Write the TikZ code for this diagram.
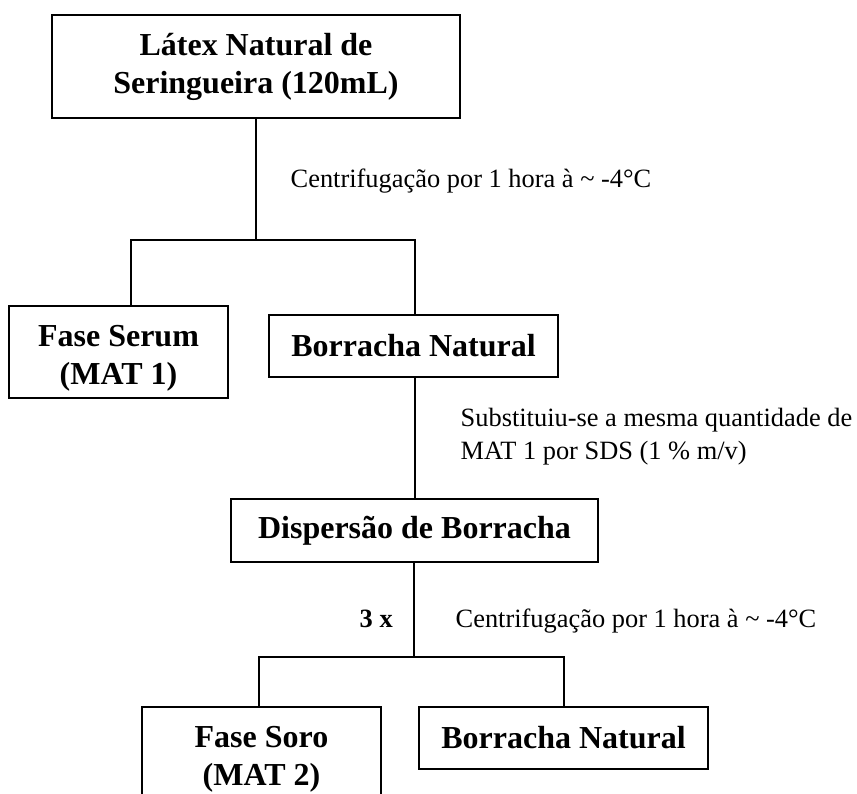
\documentclass[tikz,border=0pt]{standalone}
\usepackage{fontspec}
\setmainfont{Liberation Serif}
\begin{document}
\begin{tikzpicture}[x=1pt,y=-1pt, line width=1.4pt,
  box/.style={draw, rectangle, inner sep=0pt, align=center,
    font=\fontsize{32}{38}\selectfont\bfseries},
  lbl/.style={inner sep=0pt, align=left, font=\fontsize{26.4}{33}\selectfont},
  lblb/.style={lbl, font=\fontsize{26.4}{33}\selectfont\bfseries}]
\useasboundingbox (0,0) rectangle (857,794);

% boxes
\node[box, minimum width=408pt, minimum height=103pt] (top) at (256,66.5)
  {Látex Natural de\\Seringueira (120mL)};
\node[box, minimum width=219pt, minimum height=92pt] (serum) at (118.5,352)
  {\rule{0pt}{34pt}Fase Serum\\(MAT 1)};
\node[box, minimum width=289pt, minimum height=62pt] (bn1) at (413.5,346)
  {Borracha Natural};
\node[box, minimum width=367pt, minimum height=63pt] (disp) at (414.5,530.5)
  {Dispersão de Borracha};
\node[box, minimum width=239pt, minimum height=105pt] (soro) at (261.5,759.5)
  {Fase Soro\\(MAT 2)};
\node[box, minimum width=289pt, minimum height=62pt] (bn2) at (563.5,738)
  {Borracha Natural};

% junction points
\coordinate (j1) at (256,240);
\coordinate (b1) at (131,240);
\coordinate (b2) at (415,240);
\coordinate (j2) at (414,657);
\coordinate (c1) at (259,657);
\coordinate (c2) at (564,657);

% connectors
\draw (top.south -| j1) -- (j1);
\draw (b1 |- serum.north) -- (b1) -- (b2) -- (b2 |- bn1.north);
\draw (bn1.south -| b2) -- (b2 |- disp.north);
\draw (disp.south -| j2) -- (j2);
\draw (c1 |- soro.north) -- (c1) -- (c2) -- (c2 |- bn2.north);

% labels
\node[lbl, anchor=base west] (t1) at (290,188)
  {Centrifugação por 1 hora à \textasciitilde{} -4°C};
\node[lbl, anchor=north west] (t2) at (460,407)
  {Substituiu-se a mesma quantidade de\\MAT 1 por SDS (1 \% m/v)};
\node[lblb, anchor=base west] (t3) at (359,627) {3 x};
\node[lbl, anchor=base west] (t4) at (455,627)
  {Centrifugação por 1 hora à \textasciitilde{} -4°C};
\end{tikzpicture}
\end{document}
